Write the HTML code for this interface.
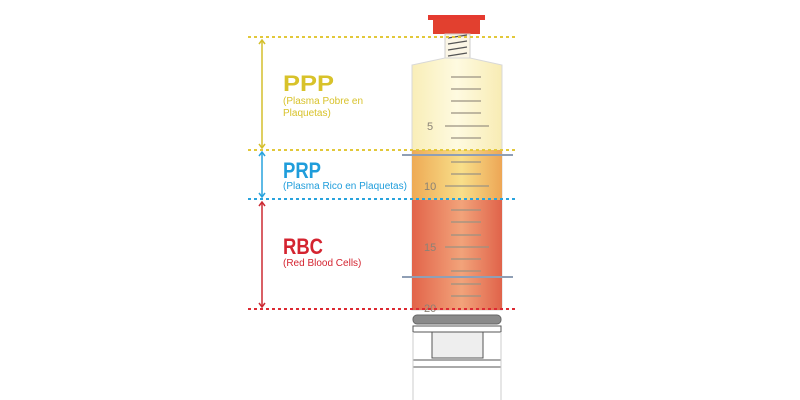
<!DOCTYPE html>
<html><head><meta charset="utf-8"><style>
html,body{margin:0;padding:0;background:#fff;width:800px;height:400px;overflow:hidden}
</style></head><body>
<svg width="800" height="400" viewBox="0 0 800 400" xmlns="http://www.w3.org/2000/svg" font-family="Liberation Sans, sans-serif">
<defs>
<linearGradient id="gy" x1="0" x2="1"><stop offset="0" stop-color="#f9eeb8"/><stop offset="0.5" stop-color="#fefae0"/><stop offset="1" stop-color="#f8ecb4"/></linearGradient>
<linearGradient id="go" x1="0" x2="1"><stop offset="0" stop-color="#eeaa55"/><stop offset="0.55" stop-color="#f8df8a"/><stop offset="1" stop-color="#eda655"/></linearGradient>
<linearGradient id="gr" x1="0" x2="1"><stop offset="0" stop-color="#e2644a"/><stop offset="0.55" stop-color="#f2a37a"/><stop offset="1" stop-color="#e0634a"/></linearGradient>
</defs>
<rect x="428" y="15" width="57" height="5" fill="#e53a2f"/>
<rect x="433" y="19" width="47" height="15" fill="#e2402f"/>
<rect x="445" y="34" width="25" height="24" fill="#fbf6e6" stroke="#ccc" stroke-width="1"/>
<g stroke="#555" stroke-width="1.3" fill="none">
<path d="M448 38 L467 35 M448 44 L467 41 M448 50 L467 47 M448 56 L467 53"/>
</g>
<path d="M445 58 L470 58 L502 65 L502 310 L412 310 L412 65 Z" fill="url(#gy)" stroke="#d8d8d8" stroke-width="1"/>
<rect x="412" y="150" width="90" height="50" fill="url(#go)"/>
<rect x="412" y="200" width="90" height="110" fill="url(#gr)"/>
<g stroke="#9a9282" stroke-width="1.2">
<line x1="451" x2="481" y1="77" y2="77"/><line x1="451" x2="481" y1="89" y2="89"/>
<line x1="451" x2="481" y1="101" y2="101"/><line x1="451" x2="481" y1="113" y2="113"/>
<line x1="445" x2="489" y1="126" y2="126"/><line x1="451" x2="481" y1="138" y2="138"/>
<line x1="451" x2="481" y1="162" y2="162"/><line x1="451" x2="481" y1="174" y2="174"/>
<line x1="445" x2="489" y1="186" y2="186"/><line x1="451" x2="481" y1="210" y2="210"/>
<line x1="451" x2="481" y1="222" y2="222"/><line x1="451" x2="481" y1="235" y2="235"/>
<line x1="445" x2="489" y1="247" y2="247"/><line x1="451" x2="481" y1="259" y2="259"/>
<line x1="451" x2="481" y1="271" y2="271"/><line x1="451" x2="481" y1="284" y2="284"/>
<line x1="451" x2="481" y1="296" y2="296"/>
</g>
<g fill="#8a8276" font-size="11">
<text x="427" y="130">5</text><text x="424" y="190">10</text><text x="424" y="251">15</text><text x="424" y="312">20</text>
</g>
<rect x="402" y="154" width="111" height="2" fill="#8f9fb5"/>
<rect x="402" y="276" width="111" height="2" fill="#8f9fb5"/>
<rect x="413" y="315" width="88" height="9" rx="4" fill="#8a8a8a" stroke="#666"/>
<rect x="413" y="326" width="88" height="6" fill="#fff" stroke="#555"/>
<rect x="432" y="332" width="51" height="26" fill="#eeeeee" stroke="#555"/>
<rect x="413" y="360" width="88" height="7" fill="#fff" stroke="#555"/>
<line x1="413" y1="332" x2="413" y2="400" stroke="#ccc"/>
<line x1="501" y1="332" x2="501" y2="400" stroke="#ccc"/>
<g stroke-width="2" stroke-dasharray="3,3">
<line x1="248" x2="518" y1="37" y2="37" stroke="#e2c83a"/>
<line x1="248" x2="518" y1="150" y2="150" stroke="#e2c83a"/>
<line x1="248" x2="518" y1="199" y2="199" stroke="#29a3dd"/>
<line x1="248" x2="518" y1="309" y2="309" stroke="#dc2a33"/>
</g>
<g fill="none" stroke-width="1.5">
<g stroke="#d4bf2c"><line x1="262" y1="41" x2="262" y2="147"/><path d="M259 44 L262 40 L265 44 M259 144 L262 148 L265 144"/></g>
<g stroke="#29a3dd"><line x1="262" y1="153" x2="262" y2="196"/><path d="M259 156 L262 152 L265 156 M259 193 L262 197 L265 193"/></g>
<g stroke="#cc2a33"><line x1="262" y1="203" x2="262" y2="306"/><path d="M259 206 L262 202 L265 206 M259 303 L262 307 L265 303"/></g>
</g>
<text x="283" y="91" font-size="22" font-weight="bold" fill="#d8c22a" textLength="51" lengthAdjust="spacingAndGlyphs">PPP</text>
<text x="283" y="104" font-size="10" fill="#d8c22a">(Plasma Pobre en</text>
<text x="283" y="116" font-size="10" fill="#d8c22a">Plaquetas)</text>
<text x="283" y="178" font-size="22" font-weight="bold" fill="#1f9ddb" textLength="38" lengthAdjust="spacingAndGlyphs">PRP</text>
<text x="283" y="189" font-size="10" fill="#1f9ddb">(Plasma Rico en Plaquetas)</text>
<text x="283" y="254" font-size="22" font-weight="bold" fill="#d42430" textLength="40" lengthAdjust="spacingAndGlyphs">RBC</text>
<text x="283" y="266" font-size="10" fill="#d42430">(Red Blood Cells)</text>
</svg>
</body></html>
